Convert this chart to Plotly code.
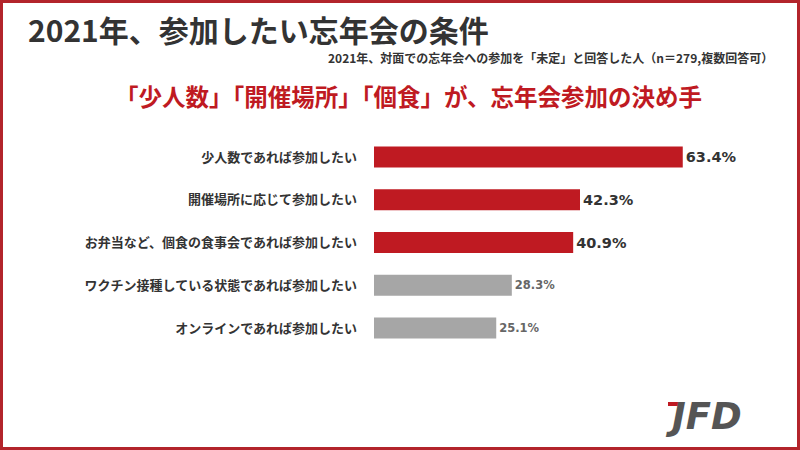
import plotly.graph_objects as go

categories = [
    "少人数であれば参加したい",
    "開催場所に応じて参加したい",
    "お弁当など、個食の食事会であれば参加したい",
    "ワクチン接種している状態であれば参加したい",
    "オンラインであれば参加したい",
]
values = [63.4, 42.3, 40.9, 28.3, 25.1]
value_labels = ["63.4%", "42.3%", "40.9%", "28.3%", "25.1%"]
highlight = [True, True, True, False, False]

title_text = "2021年、参加したい忘年会の条件"
subtitle_text = "2021年、対面での忘年会への参加を「未定」と回答した人（n＝279,複数回答可）"
headline_text = "「少人数」「開催場所」「個食」が、忘年会参加の決め手"
logo_text = "JFD"

RED = "#bf1a22"
GRAY = "#a6a6a6"
W, H = 800, 450
JP = "Noto Sans CJK JP"

bar_colors = [RED if h else GRAY for h in highlight]
text_colors = ["#333333" if h else "#666666" for h in highlight]
text_sizes = [14.5 if h else 11.5 for h in highlight]

fig = go.Figure()
fig.add_trace(go.Bar(
    x=values,
    y=categories,
    orientation="h",
    marker=dict(color=bar_colors, line=dict(width=0)),
    width=0.49,
    text=value_labels,
    textposition="outside",
    textfont=dict(family="DejaVu Sans", size=text_sizes, color=text_colors, weight="bold"),
    cliponaxis=False,
    hoverinfo="skip",
))

x0_px = 374
px_per_unit = 4.87
x_max = (W - x0_px) / px_per_unit

top_px, bot_px = 135.6, 349.4

fig.update_layout(
    width=W, height=H,
    margin=dict(l=0, r=0, t=0, b=0),
    paper_bgcolor="white",
    plot_bgcolor="white",
    showlegend=False,
    xaxis=dict(
        domain=[x0_px / W, 1.0],
        range=[0, x_max],
        showgrid=False, zeroline=False, showline=False,
        showticklabels=False, ticks="",
    ),
    yaxis=dict(
        domain=[1 - bot_px / H, 1 - top_px / H],
        categoryorder="array", categoryarray=categories,
        range=[4.5, -0.5],
        showgrid=False, zeroline=False, showline=False, ticks="",
        ticklabelstandoff=16,
        tickfont=dict(family=JP, size=13, color="#333333", weight="bold"),
    ),
    font=dict(family=JP),
)

# red frame
b = 1.5
fig.add_shape(type="rect", xref="paper", yref="paper",
              x0=b / W, x1=1 - b / W, y0=b / H, y1=1 - b / H,
              line=dict(color="#b3242b", width=3), fillcolor="rgba(0,0,0,0)", layer="above")

fig.add_annotation(text=title_text, xref="paper", yref="paper",
                   x=26 / W, y=1 - 29 / H, xanchor="left", yanchor="middle",
                   showarrow=False,
                   font=dict(family=JP, size=30, color="#333333", weight="bold"))
fig.add_annotation(text=subtitle_text, xref="paper", yref="paper",
                   x=775 / W, y=1 - 57 / H, xanchor="right", yanchor="middle",
                   showarrow=False,
                   font=dict(family=JP, size=12, color="#333333", weight="bold"))
fig.add_annotation(text=headline_text, xref="paper", yref="paper",
                   x=408 / W, y=1 - 96 / H, xanchor="center", yanchor="middle",
                   showarrow=False,
                   font=dict(family=JP, size=23.5, color=RED, weight="bold"))

# logo
fig.add_annotation(text=logo_text, xref="paper", yref="paper",
                   x=703 / W, y=1 - 416 / H, xanchor="center", yanchor="middle",
                   showarrow=False,
                   font=dict(family="DejaVu Sans", size=37, color="#555555",
                             weight="bold", style="italic"))
fig.add_shape(type="rect", xref="paper", yref="paper",
              x0=668 / W, x1=679 / W, y0=1 - 406 / H, y1=1 - 402 / H,
              line=dict(width=0), fillcolor=RED)

fig.write_html("out.html")
